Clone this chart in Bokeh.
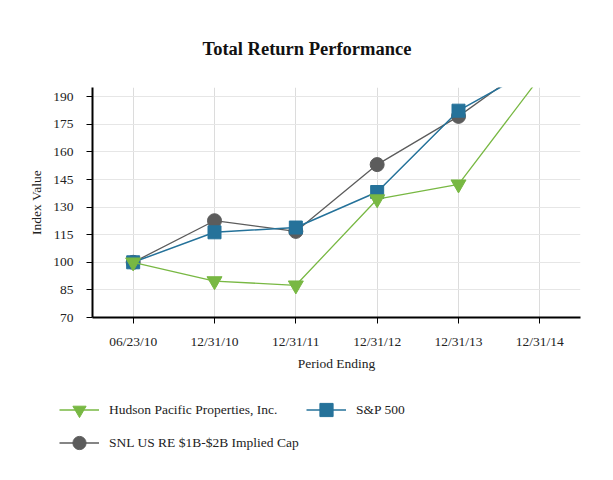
from bokeh.plotting import figure
from bokeh.layouts import column
from bokeh.models import Range1d, FixedTicker, Legend, LegendItem, ColumnDataSource
from bokeh.embed import file_html
from bokeh.resources import INLINE

periods = ["06/23/10", "12/31/10", "12/31/11", "12/31/12", "12/31/13", "12/31/14"]
hudson = [100, 89.8, 87.5, 134.3, 142.4, 200.5]
sp500 = [100, 116.3, 118.9, 138.2, 182.4, 207.0]
snl = [100, 122.6, 116.8, 153.1, 179.3, 211.0]
y_ticks = [70, 85, 100, 115, 130, 145, 160, 175, 190]
series_names = ["Hudson Pacific Properties, Inc.", "S&P 500", "SNL US RE $1B-$2B Implied Cap"]

FONT = "Liberation Serif"
GREEN = "#78b843"
BLUE = "#25729a"
GRAY = "#5c5c5c"

src = ColumnDataSource(dict(x=periods, h=hudson, s=sp500, n=snl))


def draw_series(fig):
    rl3 = fig.line("x", "n", source=src, line_color=GRAY, line_width=1.3)
    rm3 = fig.scatter("x", "n", source=src, marker="circle", size=14, fill_color=GRAY, line_color=GRAY)
    rl2 = fig.line("x", "s", source=src, line_color=BLUE, line_width=1.5)
    rm2 = fig.scatter("x", "s", source=src, marker="square", size=13, fill_color=BLUE, line_color=BLUE)
    rl1 = fig.line("x", "h", source=src, line_color=GREEN, line_width=1.3)
    rm1 = fig.scatter("x", "h", source=src, marker="inverted_triangle", size=15, fill_color=GREEN, line_color=GREEN)
    return [(rl1, rm1), (rl2, rm2), (rl3, rm3)]


p = figure(width=597, height=387, x_range=periods, y_range=Range1d(70, 195),
           output_backend="svg", toolbar_location=None,
           min_border_left=92, min_border_right=17, min_border_top=87, min_border_bottom=70)
p.frame_align = False

p.title.text = "Total Return Performance"
p.title.text_font = FONT
p.title.text_font_size = "18.5px"
p.title.text_font_style = "bold"
p.title.align = "left"
p.title.offset = 110
p.title.standoff = 58
p.title.text_color = "#111111"

p.outline_line_color = None
p.background_fill_color = "white"

p.xgrid.grid_line_color = "#dcdcdc"
p.ygrid.grid_line_color = "#e6e6e6"
p.xgrid.grid_line_width = 1
p.ygrid.grid_line_width = 1

p.yaxis.ticker = FixedTicker(ticks=y_ticks)
for ax in (p.xaxis[0], p.yaxis[0]):
    ax.axis_line_color = "black"
    ax.axis_line_width = 2
    ax.major_tick_line_color = "black"
    ax.major_tick_line_width = 1
    ax.major_tick_in = 0
    ax.major_tick_out = 6
    ax.minor_tick_line_color = None
    ax.major_label_text_font = FONT
    ax.major_label_text_font_size = "13.5px"
    ax.major_label_text_color = "#222222"
    ax.axis_label_text_font = FONT
    ax.axis_label_text_font_size = "13.5px"
    ax.axis_label_text_font_style = "normal"
    ax.axis_label_text_color = "#222222"

p.xaxis.axis_label = "Period Ending"
p.xaxis.major_label_standoff = 10
p.xaxis.axis_label_standoff = 4
p.yaxis.axis_label = "Index Value"
p.yaxis.major_label_standoff = 13
p.yaxis.axis_label_standoff = 6

draw_series(p)

# legend strip below the chart (its own series lie outside its visible range)
lg = figure(width=597, height=77, x_range=periods, y_range=Range1d(0, 1),
            output_backend="svg", toolbar_location=None,
            min_border_left=0, min_border_right=0, min_border_top=0, min_border_bottom=0)
lg.frame_align = False
lg.axis.visible = False
lg.grid.visible = False
lg.outline_line_color = None
rs = draw_series(lg)

legend = Legend(items=[
    LegendItem(label=series_names[0], renderers=list(rs[0])),
    LegendItem(label=series_names[2], renderers=list(rs[2])),
    LegendItem(label=series_names[1], renderers=list(rs[1])),
], ncols=2, location=(59, 5))
legend.label_text_font = FONT
legend.label_text_font_size = "13.5px"
legend.label_text_color = "#222222"
legend.glyph_width = 40
legend.glyph_height = 33
legend.label_width = 197
legend.label_standoff = 10
legend.spacing = 0
legend.padding = 0
legend.margin = 0
legend.border_line_color = None
legend.background_fill_alpha = 0
lg.add_layout(legend)

layout = column(p, lg, spacing=0)
open("out.html", "w").write(file_html(layout, INLINE))
